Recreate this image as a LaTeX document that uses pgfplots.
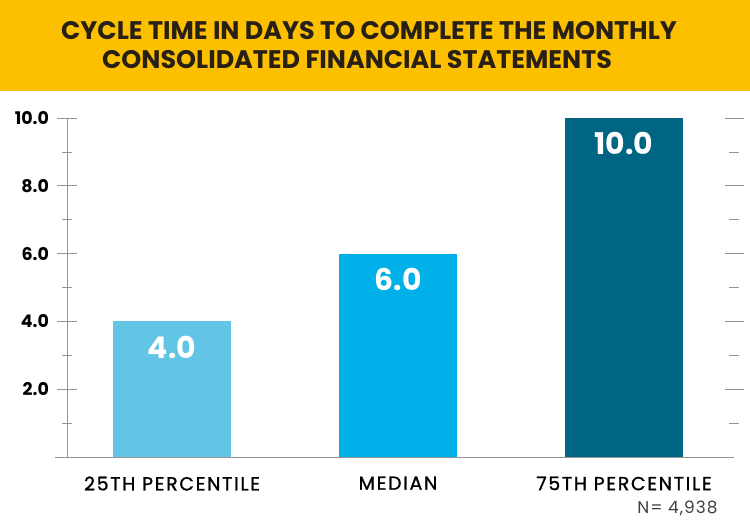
\documentclass[border=0pt]{standalone}
\usepackage{pgfplots}
\pgfplotsset{compat=1.18}
\usepackage{fontspec}
\setmainfont{Poppins}
\newfontfamily\catfont[LetterSpace=9,FakeBold=1.2]{Poppins}
\newfontfamily\nfont[LetterSpace=6]{Poppins}

\definecolor{banner}{RGB}{253,192,0}
\definecolor{titletxt}{RGB}{40,32,20}
\definecolor{barA}{RGB}{99,197,229}
\definecolor{barB}{RGB}{0,176,232}
\definecolor{barC}{RGB}{0,101,131}
\definecolor{axisgray}{RGB}{150,150,150}

\begin{document}
\begin{tikzpicture}[x=1bp,y=1bp]
\path[use as bounding box] (0,0) rectangle (750,521);
\fill[banner] (0,430) rectangle (750,521);
\node[font=\fontsize{25.5}{30}\selectfont\bfseries, text=titletxt] at (369,490) {CYCLE TIME IN DAYS TO COMPLETE THE MONTHLY};
\node[font=\fontsize{25.5}{30}\selectfont\bfseries, text=titletxt] at (357,461) {CONSOLIDATED FINANCIAL STATEMENTS};

\begin{axis}[
    at={(67bp,64bp)}, anchor=south west,
    scale only axis,
    width=667bp, height=339bp,
    xmin=-0.465, xmax=2.487,
    ymin=0, ymax=10,
    axis line style={draw=none},
    xtick={0,1,2},
    xticklabels={25TH PERCENTILE, MEDIAN, 75TH PERCENTILE},
    x tick style={draw=none},
    xticklabel style={font=\catfont\fontsize{19}{21}\selectfont, text=black, yshift=3bp},
    ytick={2,4,6,8,10},
    minor ytick={1,3,5,7,9},
    y tick style={draw=axisgray, line width=0.6pt},
    tick align=center,
    major tick length=19bp,
    minor tick length=10bp,
    yticklabel style={font=\fontsize{17.5}{19}\selectfont\bfseries, xshift=-5bp},
    yticklabel={\pgfmathprintnumber[fixed,fixed zerofill,precision=1]{\tick}},
    /pgf/number format/assume math mode=true,
    clip=false,
    ybar, bar width=118bp, bar shift=0pt,
    nodes near coords={\pgfmathprintnumber[fixed,fixed zerofill,precision=1]{\pgfplotspointmeta}},
    nodes near coords style={font=\fontsize{30}{33}\selectfont\bfseries, text=white, anchor=north, yshift=-11bp},
]
\addplot[fill=barA, draw=none] coordinates {(0,4.0)};
\addplot[fill=barB, draw=none] coordinates {(1,6.0)};
\addplot[fill=barC, draw=none] coordinates {(2,10.0)};
\draw[axisgray, line width=0.7pt] (axis cs:-0.465,0) -- (axis cs:-0.465,10);
\draw[axisgray, line width=0.7pt] ([xshift=-12bp]axis cs:-0.465,0) -- (axis cs:2.487,0);
\end{axis}

\node[anchor=east, font=\nfont\fontsize{17}{19}\selectfont, text=black!75] at (721,13) {N= 4,938};
\end{tikzpicture}
\end{document}
